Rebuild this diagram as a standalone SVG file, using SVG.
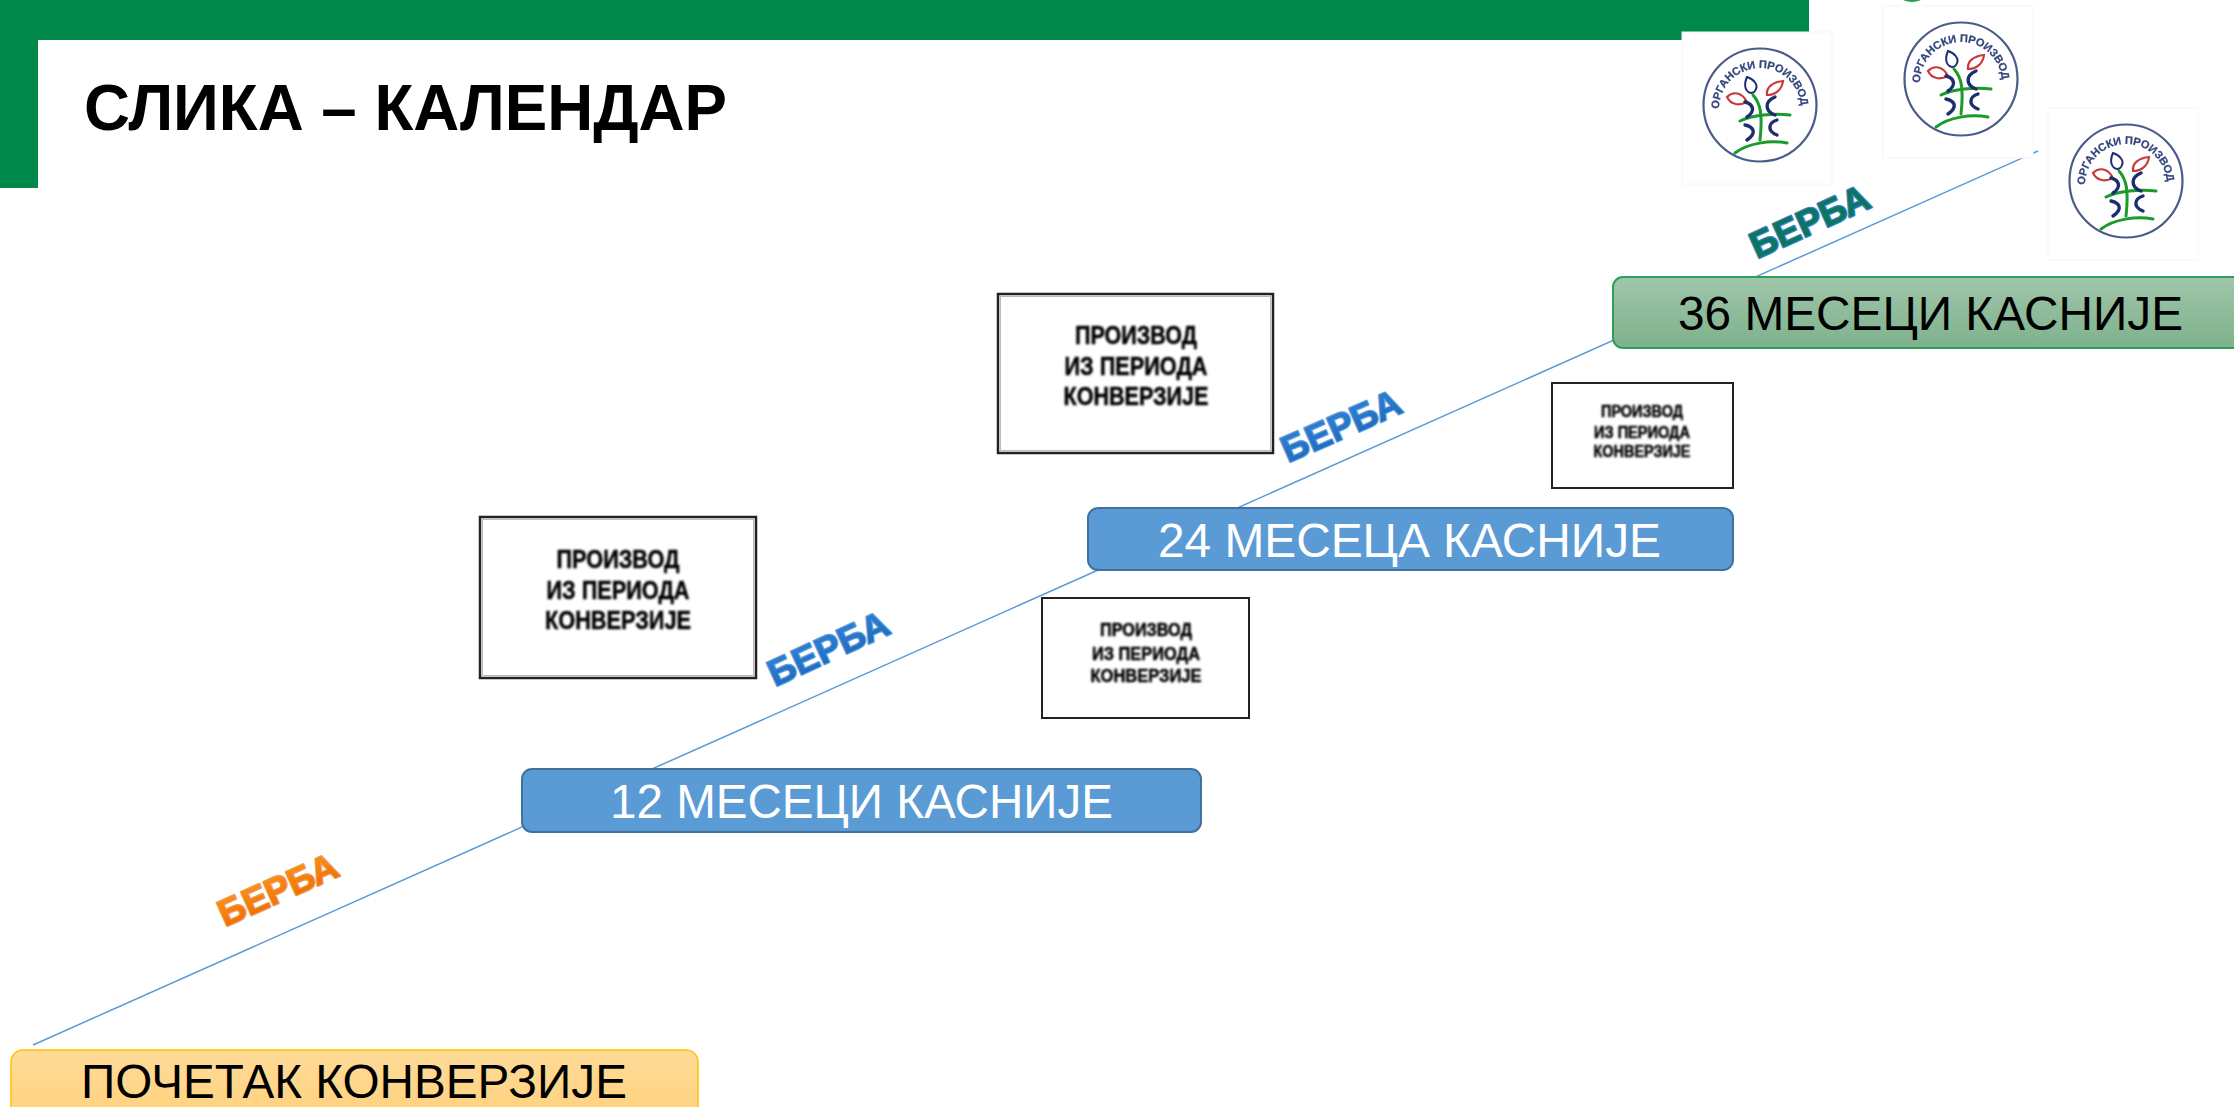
<svg xmlns="http://www.w3.org/2000/svg" width="2234" height="1107" viewBox="0 0 2234 1107">
<style>
.box{font-family:"Liberation Sans",Arial,sans-serif;font-size:48px;text-anchor:middle}
.wa{font-family:"Liberation Sans",Arial,sans-serif;font-size:37px;font-weight:700;stroke-width:2.4;paint-order:stroke;stroke-linejoin:round}
.pt{font-family:"Liberation Sans",Arial,sans-serif;font-weight:700;text-anchor:middle;fill:#000;stroke:#000;stroke-width:.5}
.pr{fill:#fff;stroke:#222;stroke-width:2.5}
.pi{fill:none;stroke:#bbb;stroke-width:1}
.lt{font-family:"Liberation Sans",Arial,sans-serif;font-size:11px;font-weight:700;fill:#33457c;stroke:#33457c;stroke-width:.25}
.ln{fill:none;stroke:#1f2f6e;stroke-width:3.4;stroke-linecap:round}
.ll{fill:none;stroke:#1f2f6e;stroke-width:2}
.lg{fill:none;stroke:#1c9a2c;stroke-width:3;stroke-linecap:round}
.lr{fill:none;stroke:#c9383d;stroke-width:2.2}
</style>
<defs>
<linearGradient id="gO" x1="0" y1="0" x2="0" y2="1"><stop offset="0" stop-color="#ffdb99"/><stop offset="1" stop-color="#ffd17c"/></linearGradient>
<linearGradient id="gG" x1="0" y1="0" x2="0" y2="1"><stop offset="0" stop-color="#a0c6aa"/><stop offset="1" stop-color="#7eb18c"/></linearGradient>
<linearGradient id="wO" x1="0" y1="0" x2="0" y2="1"><stop offset="0" stop-color="#ff9418"/><stop offset="1" stop-color="#ee6800"/></linearGradient>
<linearGradient id="wB" x1="0" y1="0" x2="0" y2="1"><stop offset="0" stop-color="#2f83d6"/><stop offset="1" stop-color="#1f68bb"/></linearGradient>
<filter id="b" x="-10%" y="-10%" width="120%" height="120%"><feGaussianBlur stdDeviation="0.8"/></filter>
<filter id="b2" x="-10%" y="-10%" width="120%" height="120%"><feGaussianBlur stdDeviation="0.7"/></filter>
<path id="arc" d="M-41,4 A41,41 0 0 1 41,4"/>
<g id="logo">
<rect x="-78" y="-73" width="150" height="152" fill="#fff" stroke="#f6f6f6"/>
<g filter="url(#b2)">
<circle r="56.5" fill="none" stroke="#4a5c88" stroke-width="2.2"/>
<text class="lt"><textPath href="#arc">ОРГАНСКИ ПРОИЗВОД</textPath></text>
<path class="ll" d="M-13,-28 C-6,-26 -2,-20 -4,-16 C-5,-13 -7,-12 -9,-12 C-14,-13 -17,-19 -13,-28Z"/>
<path class="lr" d="M23,-24 C13,-23 6,-18 7,-10 C15,-10 22,-15 23,-24Z"/>
<path class="lr" d="M-33,-8 C-27,-14 -18,-13 -13,-3 C-21,1 -29,0 -33,-8Z"/>
<path class="lg" d="M-7,-10 C0,-2 3,8 0,35"/>
<path class="lg" d="M-20,16 C-8,10 14,8 30,10"/>
<path class="lg" d="M-25,48 C-12,38 10,35 27,38"/>
<path class="ln" d="M-15,-3 C-7,-1 -4,6 -13,12"/>
<path class="ln" d="M15,-8 C5,-4 4,6 15,10"/>
<path class="ln" d="M-15,20 C-6,22 -3,28 -13,35"/>
<path class="ln" d="M17,15 C8,18 7,26 17,30"/>
</g>
</g>
</defs>

<g id="header">
<rect x="0" y="0" width="1809" height="40" fill="#00894a"/>
<rect x="0" y="0" width="38" height="188" fill="#00894a"/>
<text x="84" y="130" font-family="'Liberation Sans',Arial,sans-serif" font-size="64" font-weight="700" fill="#000" textLength="643" lengthAdjust="spacingAndGlyphs">СЛИКА – КАЛЕНДАР</text>
</g>

<g id="connectors">
<line x1="33" y1="1045" x2="2038" y2="151" stroke="#5b9bd5" stroke-width="1.5"/>
</g>

<ellipse id="top-speck" cx="1912" cy="-3" rx="11" ry="5" fill="#1e9e5a"/>

<g id="logo-1"><use href="#logo" x="1760" y="105"/></g>
<g id="logo-2"><use href="#logo" x="1961" y="79"/></g>
<g id="logo-3"><use href="#logo" x="2126" y="181"/></g>

<g id="start-box">
<rect x="11" y="1050" width="687" height="70" rx="12" fill="url(#gO)" stroke="#ffc000" stroke-width="1.5"/>
<text class="box" x="354" y="1098" fill="#000" textLength="546" lengthAdjust="spacingAndGlyphs">ПОЧЕТАК КОНВЕРЗИЈЕ</text>
</g>
<g id="box-12">
<rect x="522" y="769" width="679" height="63" rx="10" fill="#5b9bd5" stroke="#41719c" stroke-width="2"/>
<text class="box" x="861.5" y="818" fill="#fff" textLength="503" lengthAdjust="spacingAndGlyphs">12 МЕСЕЦИ КАСНИЈЕ</text>
</g>
<g id="box-24">
<rect x="1088" y="508" width="645" height="62" rx="10" fill="#5b9bd5" stroke="#41719c" stroke-width="2"/>
<text class="box" x="1409.5" y="557" fill="#fff" textLength="503" lengthAdjust="spacingAndGlyphs">24 МЕСЕЦА КАСНИЈЕ</text>
</g>
<g id="box-36">
<rect x="1613" y="277" width="640" height="71" rx="10" fill="url(#gG)" stroke="#2e9e5b" stroke-width="2"/>
<text class="box" x="1930.5" y="330" fill="#000" textLength="505" lengthAdjust="spacingAndGlyphs">36 МЕСЕЦИ КАСНИЈЕ</text>
</g>

<g id="product-1">
<rect class="pr" x="480" y="517" width="276" height="161"/>
<rect class="pi" x="482.5" y="519.5" width="271" height="156"/>
<g class="pt" font-size="25" filter="url(#b)"><text x="618" y="568" textLength="123" lengthAdjust="spacingAndGlyphs">ПРОИЗВОД</text><text x="618" y="599" textLength="143" lengthAdjust="spacingAndGlyphs">ИЗ ПЕРИОДА</text><text x="618" y="629" textLength="146" lengthAdjust="spacingAndGlyphs">КОНВЕРЗИЈЕ</text></g>
</g>
<g id="product-2">
<rect class="pr" x="998" y="294" width="275" height="159"/>
<rect class="pi" x="1000.5" y="296.5" width="270" height="154"/>
<g class="pt" font-size="25" filter="url(#b)"><text x="1136" y="344" textLength="122" lengthAdjust="spacingAndGlyphs">ПРОИЗВОД</text><text x="1136" y="375" textLength="143" lengthAdjust="spacingAndGlyphs">ИЗ ПЕРИОДА</text><text x="1136" y="405" textLength="145" lengthAdjust="spacingAndGlyphs">КОНВЕРЗИЈЕ</text></g>
</g>
<g id="product-3">
<rect class="pr" x="1042" y="598" width="207" height="120" style="stroke-width:2"/>
<g class="pt" font-size="18" filter="url(#b)"><text x="1146" y="636" textLength="92" lengthAdjust="spacingAndGlyphs">ПРОИЗВОД</text><text x="1146" y="660" textLength="108" lengthAdjust="spacingAndGlyphs">ИЗ ПЕРИОДА</text><text x="1146" y="682" textLength="111" lengthAdjust="spacingAndGlyphs">КОНВЕРЗИЈЕ</text></g>
</g>
<g id="product-4">
<rect class="pr" x="1552" y="383" width="181" height="105" style="stroke-width:2"/>
<g class="pt" font-size="16" filter="url(#b)"><text x="1642" y="417" textLength="82" lengthAdjust="spacingAndGlyphs">ПРОИЗВОД</text><text x="1642" y="438" textLength="96" lengthAdjust="spacingAndGlyphs">ИЗ ПЕРИОДА</text><text x="1642" y="457" textLength="97" lengthAdjust="spacingAndGlyphs">КОНВЕРЗИЈЕ</text></g>
</g>

<g id="harvest-1"><text class="wa" transform="translate(225,927) rotate(-24)" fill="url(#wO)" stroke="#e8a060" textLength="127" lengthAdjust="spacingAndGlyphs">БЕРБА</text></g>
<g id="harvest-2"><text class="wa" transform="translate(775,687) rotate(-24.8)" fill="url(#wB)" stroke="#6aa5dc" textLength="129" lengthAdjust="spacingAndGlyphs">БЕРБА</text></g>
<g id="harvest-3"><text class="wa" transform="translate(1288,463) rotate(-23.7)" fill="url(#wB)" stroke="#6aa5dc" textLength="127" lengthAdjust="spacingAndGlyphs">БЕРБА</text></g>
<g id="harvest-4"><text class="wa" transform="translate(1757,259) rotate(-24.3)" fill="#0c7561" stroke="#3f86c8" textLength="127" lengthAdjust="spacingAndGlyphs">БЕРБА</text></g>
</svg>
